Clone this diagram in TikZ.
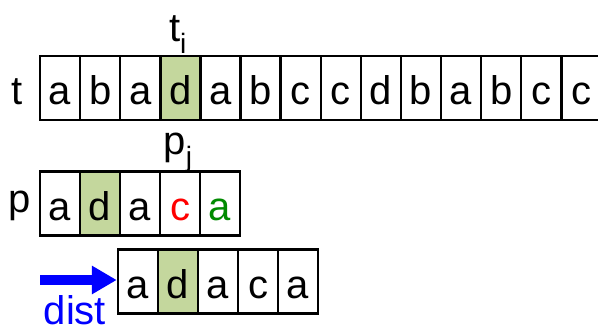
\documentclass[tikz,border=0pt]{standalone}
\usepackage{fontspec}
\setmainfont{Liberation Sans}
\usetikzlibrary{arrows.meta}
\definecolor{hit}{HTML}{C4D79D}
\definecolor{mismatch}{HTML}{FF0000}
\definecolor{match}{HTML}{008A00}
\definecolor{shift}{HTML}{0000FF}
\tikzset{
  cell/.style={draw, line width=2.4pt, rectangle, inner sep=0pt,
    minimum width=40.1pt, minimum height=64pt,
    text height=34pt, text depth=0pt,
    font=\fontsize{40}{44}\selectfont},
  hitcell/.style={cell, fill=hit},
  label/.style={inner sep=0pt, anchor=base, font=\fontsize{40}{44}\selectfont},
  shiftarrow/.style={draw=shift, line width=10pt,
    -{Triangle[length=25pt, width=27pt]}}
}
\begin{document}
\begin{tikzpicture}[x=1pt, y=-1pt]
  \useasboundingbox (0,0) rectangle (598,326);
  \clip (0,0) rectangle (598,326);

  % text t
  \foreach \ch/\st [count=\k from 0] in {a/cell,b/cell,a/cell,d/hitcell,
      a/cell,b/cell,c/cell,c/cell,d/cell,b/cell,a/cell,b/cell,c/cell,c/cell} {
    \node[\st] (t\k) at ({60.05+40.1*\k}, 88) {\ch};
  }
  \node[label] (tlab) at (17, 105) {t};
  \node[label] (tilab) at (178, 42) {t\textsubscript{i}};

  % pattern p, first alignment
  \node[cell]    (p0) at (60, 203.5) {a};
  \node[hitcell] (p1) at (100, 203.5) {d};
  \node[cell]    (p2) at (140, 203.5) {a};
  \node[cell, text=mismatch] (p3) at (180, 203.5) {c};
  \node[cell, text=match]    (p4) at (220, 203.5) {a};
  \node[label] (plab) at (20, 213) {p};
  \node[label] (pjlab) at (178, 155) {p\textsubscript{j}};

  % pattern p, shifted
  \node[cell]    (q0) at (138, 281.5) {a};
  \node[hitcell] (q1) at (178, 281.5) {d};
  \node[cell]    (q2) at (218, 281.5) {a};
  \node[cell]    (q3) at (258, 281.5) {c};
  \node[cell]    (q4) at (298, 281.5) {a};

  % shift distance
  \coordinate (s0) at (40, 280);
  \draw[shiftarrow] (s0) -- (q0.west |- s0);
  \node[label, text=shift] (dlab) at (75, 324) {dist};
\end{tikzpicture}
\end{document}
